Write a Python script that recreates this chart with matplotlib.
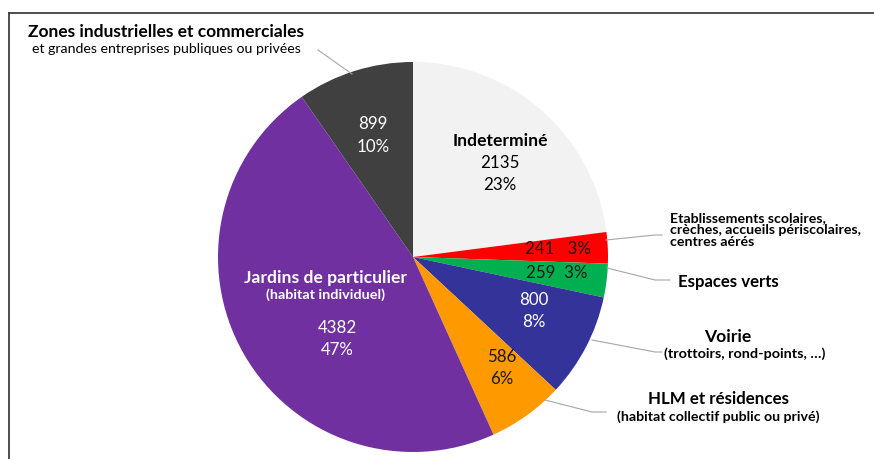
import matplotlib
matplotlib.use("Agg")
import matplotlib.pyplot as plt
from matplotlib.lines import Line2D

categories = ["Indeterminé", "Etablissements scolaires", "Espaces verts", "Voirie",
              "HLM et résidences", "Jardins de particulier", "Zones industrielles et commerciales"]
values = [2135, 241, 259, 800, 586, 4382, 899]
percents = ["23%", "3%", "3%", "8%", "6%", "47%", "10%"]
colors = ["#F2F2F2", "#FF0000", "#00B050", "#333399", "#FF9900", "#7030A0", "#404040"]

W, H = 874, 459
plt.rcParams['font.family'] = ['Lato', 'DejaVu Sans']
fig = plt.figure(figsize=(W / 100, H / 100), dpi=100)
ax = fig.add_axes([0, 0, 1, 1])

def Y(p):
    return H - p

cx, cy, r = 413, 257, 195
ax.pie(values, colors=colors, startangle=90, counterclock=False,
       center=(cx, Y(cy)), radius=r, frame=True,
       wedgeprops=dict(linewidth=0))
ax.set_xlim(0, W)
ax.set_ylim(0, H)
ax.set_aspect('equal')
ax.axis('off')

# frame lines
ax.add_line(Line2D([9, 9], [Y(13), 0], color="#404040", lw=1.3))
ax.add_line(Line2D([9, W], [Y(13), Y(13)], color="#404040", lw=1.3))

def t(x, y, s, size=11, weight='normal', color='black', ha='center', ls=1.2):
    ax.text(x, Y(y), s, fontsize=size, fontweight=weight, color=color, ha=ha,
            va='center', linespacing=ls)

# inside labels
t(500, 141, categories[0], 12.6, 'bold')
t(500, 163, str(values[0]), 12.2)
t(500, 185, percents[0], 12.2)

t(558, 249, f"{values[1]}   {percents[1]}", 12.2, color='#1a1a1a')
t(557, 273, f"{values[2]}  {percents[2]}", 12.2, color='#1a1a1a')

t(534, 300, str(values[3]), 12.2, color='white')
t(534, 322, percents[3], 12.2, color='white')

t(502, 357, str(values[4]), 12.2, color='#1a1a1a')
t(502, 379, percents[4], 12.2, color='#1a1a1a')

t(325, 278, categories[5], 12.6, 'bold', 'white')
t(325, 295, "(habitat individuel)", 10.4, 'bold', 'white')
t(337, 328, str(values[5]), 12.2, color='white')
t(337, 350, percents[5], 12.2, color='white')

t(373, 124, str(values[6]), 12.2, color='white')
t(373, 147, percents[6], 12.2, color='white')

# outside labels
t(166, 32, categories[6], 12.5, 'bold')
t(166, 49, "et grandes entreprises publiques ou privées", 10.2)

t(670, 230, "Etablissements scolaires,\ncrèches, accueils périscolaires,\ncentres aérés",
  10.2, 'bold', ha='left', ls=1.03)
t(678, 282, categories[2], 12.1, 'bold', ha='left')
t(728, 337, categories[3], 12.6, 'bold')
t(745, 354, "(trottoirs, rond-points, …)", 10.4, 'bold')
t(718, 399, categories[4], 12.2, 'bold')
t(718, 417, "(habitat collectif public ou privé)", 10.2, 'bold')

# leader lines
lc = "#A6A6A6"
for xs, ys in [([318, 352], [50, 74]),
               ([606, 655, 662], [240, 235, 235]),
               ([607, 655, 670], [268, 280, 280]),
               ([592, 655, 662], [340, 352, 352]),
               ([545, 592, 606], [400, 412, 412])]:
    ax.add_line(Line2D(xs, [Y(v) for v in ys], color=lc, lw=0.8))

fig.savefig("out.png", dpi=100)
